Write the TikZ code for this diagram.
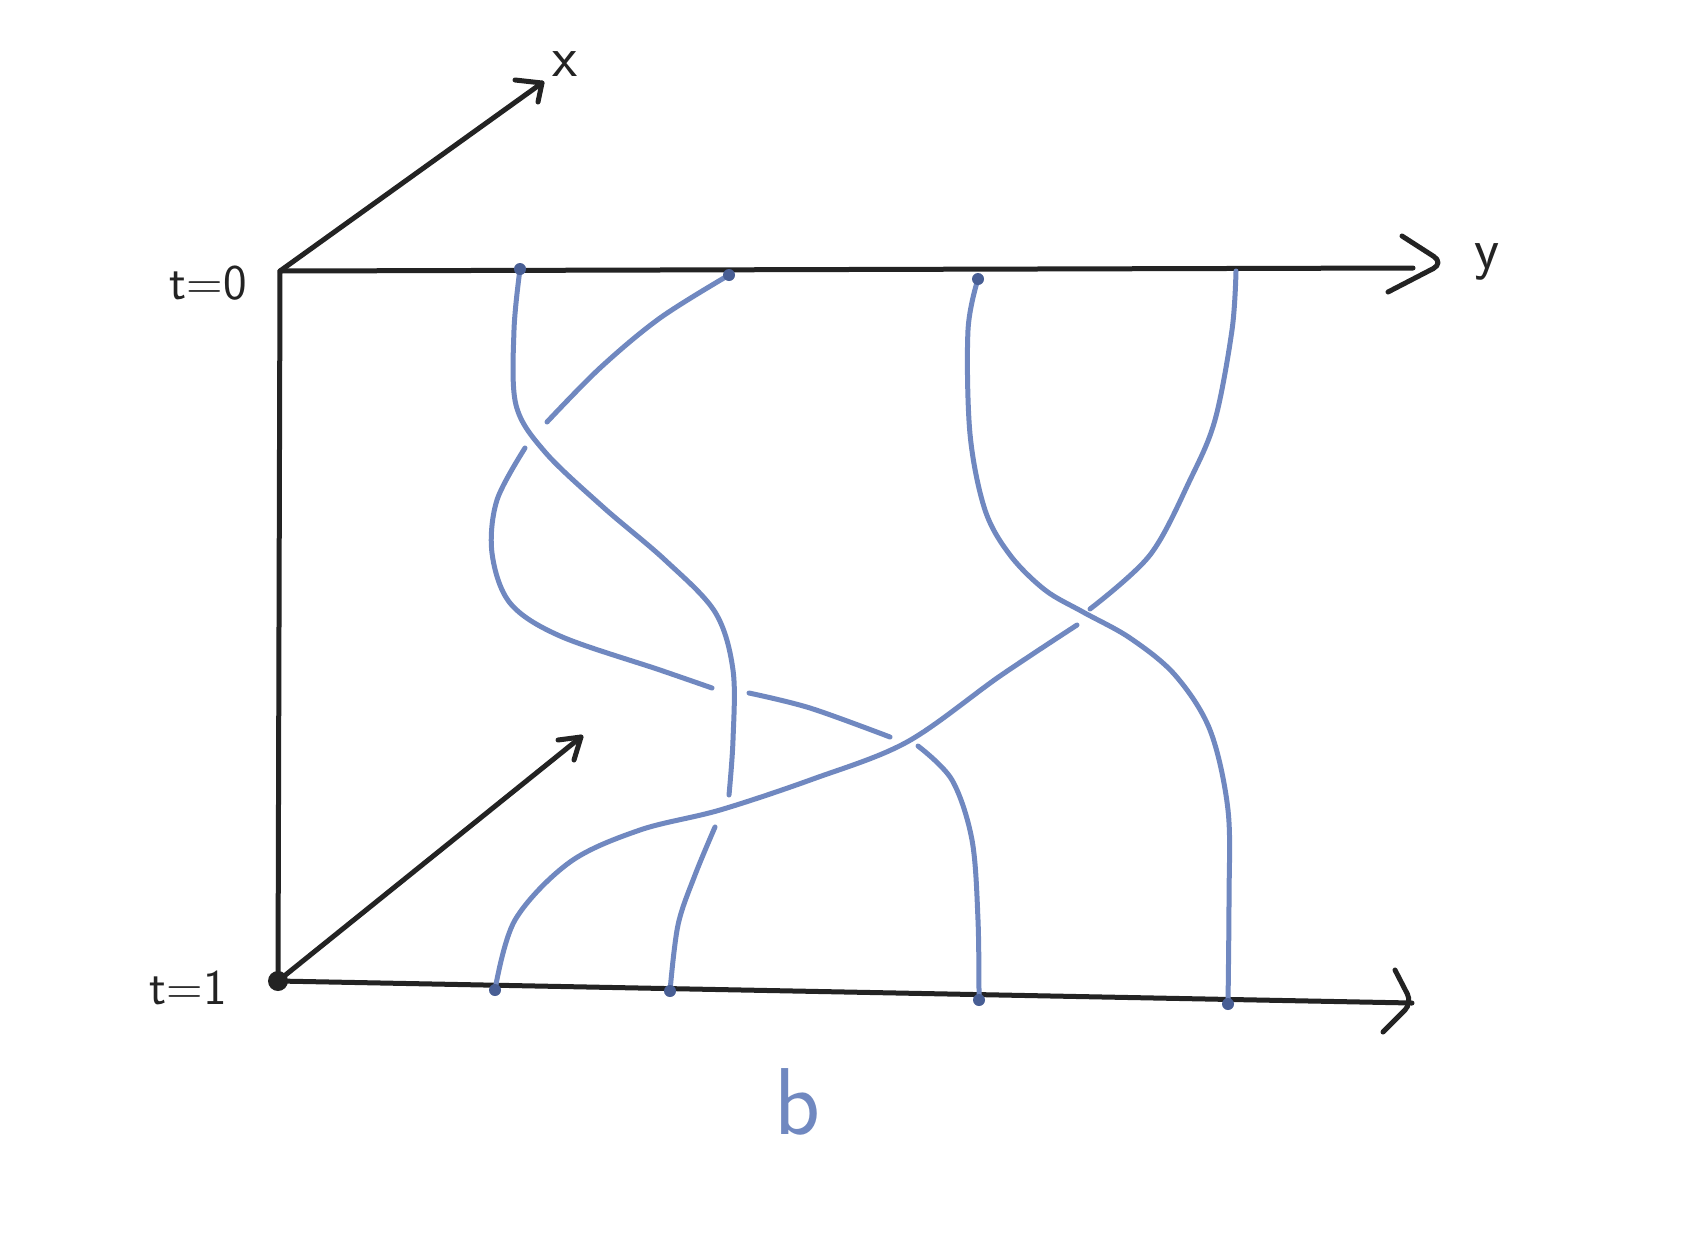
\documentclass[tikz,border=0pt]{standalone}
\definecolor{ink}{RGB}{35,35,35}
\definecolor{braid}{RGB}{112,136,192}
\definecolor{braiddot}{RGB}{72,94,148}
\begin{document}
\begin{tikzpicture}[x=1pt,y=-1pt,
 axis/.style={draw=ink,line width=5pt,line cap=round,line join=round},
 strand/.style={draw=braid,line width=5pt,line cap=round,line join=round},
 enddot/.style={circle,fill=braiddot,inner sep=0pt,minimum size=12pt},
 lbl/.style={text=ink,font=\fontsize{50}{60}\selectfont\sffamily,inner sep=0pt}]
\useasboundingbox[fill=white] (0,0) rectangle (1700,1248);
% axis coordinates
\coordinate (O0) at (280,271);
\coordinate (O1) at (278,981);
\coordinate (yend) at (1413,268);
\coordinate (ytip) at (1444,263);
\coordinate (xend) at (542,83);
\coordinate (bend) at (1412,1003);
\coordinate (dend) at (581,737);
% strand end points
\coordinate (t1) at (520,269);
\coordinate (t2) at (729,275);
\coordinate (t3) at (978,279);
\coordinate (t4) at (1236,271);
\coordinate (b1) at (495,990);
\coordinate (b2) at (670,991);
\coordinate (b3) at (979,1000);
\coordinate (b4) at (1228,1004);
% axes
\draw[axis] (O0) -- (yend);
\draw[axis,rounded corners=12pt] (1402,236) -- (ytip) -- (1388,292);
\draw[axis] (O0) -- (xend);
\draw[axis] (515,80) -- (xend) -- (538,102);
\draw[axis] (O0) -- (O1);
\draw[axis] (O1) -- (bend);
\draw[axis,rounded corners=10pt] (1395,970) -- (bend) -- (1383,1032);
\draw[axis] (O1) -- (dend);
\draw[axis] (558,740) -- (dend) -- (574,760);
\node[circle,fill=ink,inner sep=0pt,minimum size=20pt] (o1dot) at (O1) {};
% labels
\node[lbl] (lt0) at (208,283) {t=0};
\node[lbl] (lt1) at (188,988) {t=1};
\node[lbl,font=\fontsize{58}{60}\selectfont\sffamily] (lx) at (565,64) {x};
\node[lbl,font=\fontsize{58}{60}\selectfont\sffamily] (ly) at (1487,262) {y};
\node[lbl,text=braid,font=\fontsize{95}{100}\selectfont\sffamily] (lb) at (797,1102) {b};
% strand 1: t1 -> b2
\draw[strand] plot[smooth,tension=0.55] coordinates {(t1) (514,330) (516,405) (545,452) (603,507) (665,560) (715,612) (733,670) (733,740) (729,795)};
\draw[strand] plot[smooth,tension=0.55] coordinates {(715,827) (695,875) (678,925) (b2)};
% strand 2: t2 -> b3
\draw[strand] plot[smooth,tension=0.55] coordinates {(t2) (660,318) (600,368) (547,422)};
\draw[strand] plot[smooth,tension=0.55] coordinates {(525,448) (497,500) (492,553) (510,603) (560,636) (660,670) (712,688)};
\draw[strand] plot[smooth,tension=0.55] coordinates {(749,693) (810,708) (890,737)};
\draw[strand] plot[smooth,tension=0.55] coordinates {(918,746) (952,780) (972,840) (978,920) (b3)};
% strand 3: t3 -> b4 (over)
\draw[strand] plot[smooth,tension=0.55] coordinates {(t3) (968,330) (970,434) (985,510) (1010,555) (1045,590) (1083,612) (1130,638) (1175,675) (1210,730) (1228,810) (1229,900) (b4)};
% strand 4: t4 -> b1
\draw[strand] plot[smooth,tension=0.55] coordinates {(t4) (1232,330) (1215,420) (1190,480) (1150,555) (1090,609)};
\draw[strand] plot[smooth,tension=0.55] coordinates {(1077,625) (1000,676) (907,742) (813,779) (720,810) (640,830) (570,862) (515,920) (b1)};
% end dots
\node[enddot] (dt1) at (t1) {};
\node[enddot] (dt2) at (t2) {};
\node[enddot] (dt3) at (t3) {};
\node[enddot] (db1) at (b1) {};
\node[enddot] (db2) at (b2) {};
\node[enddot] (db3) at (b3) {};
\node[enddot] (db4) at (b4) {};
\end{tikzpicture}
\end{document}
